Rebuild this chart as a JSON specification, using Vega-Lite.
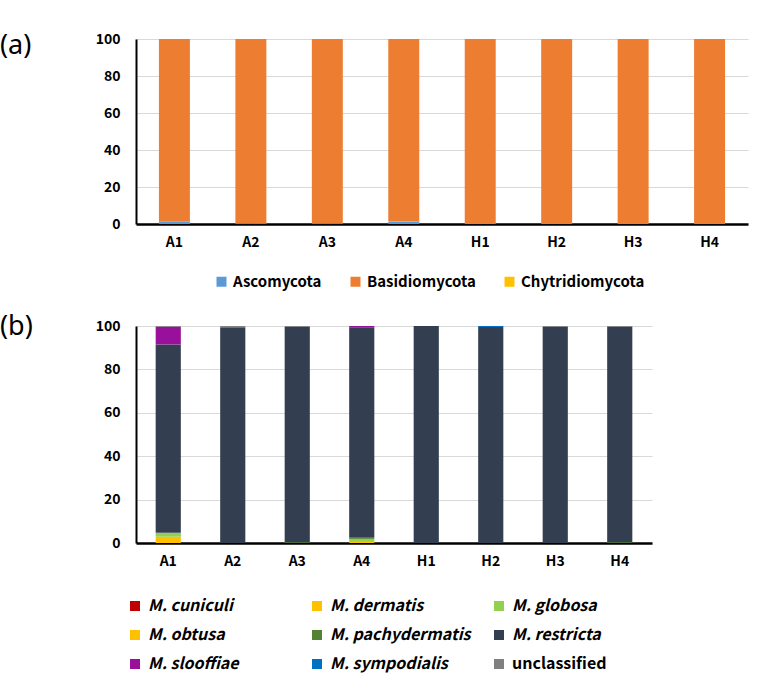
{
  "$schema": "https://vega.github.io/schema/vega-lite/v6.json",
  "padding": {"left": 0, "top": 32, "right": 5, "bottom": 5},
  "background": "white",
  "config": {
    "view": {"stroke": null},
    "font": "Noto Sans CJK KR",
    "axis": {"labelFont": "Noto Sans CJK KR", "labelFontWeight": "bold", "labelFontSize": 14, "labelColor": "#000000", "ticks": false, "title": null},
    "legend": {"labelFont": "Noto Sans CJK KR", "labelFontWeight": "bold", "labelColor": "#000000", "symbolType": "square", "symbolStrokeWidth": 0, "title": null}
  },
  "vconcat": [
    {
      "width": 612,
      "height": 185,
      "title": {"text": "(a)", "anchor": "start", "frame": "group", "orient": "top", "baseline": "top", "offset": 0, "dx": -136, "dy": 28, "font": "Noto Sans", "fontSize": 27, "fontWeight": "normal", "color": "#000000"},
      "data": {"values": [
        {"sample": "A1", "phylum": "Ascomycota", "value": 1.4},
        {"sample": "A1", "phylum": "Basidiomycota", "value": 98.6},
        {"sample": "A1", "phylum": "Chytridiomycota", "value": 0},
        {"sample": "A2", "phylum": "Ascomycota", "value": 0.1},
        {"sample": "A2", "phylum": "Basidiomycota", "value": 99.9},
        {"sample": "A3", "phylum": "Ascomycota", "value": 0.1},
        {"sample": "A3", "phylum": "Basidiomycota", "value": 99.9},
        {"sample": "A4", "phylum": "Ascomycota", "value": 1.3},
        {"sample": "A4", "phylum": "Basidiomycota", "value": 98.7},
        {"sample": "H1", "phylum": "Ascomycota", "value": 0},
        {"sample": "H1", "phylum": "Basidiomycota", "value": 100},
        {"sample": "H2", "phylum": "Ascomycota", "value": 0},
        {"sample": "H2", "phylum": "Basidiomycota", "value": 100},
        {"sample": "H3", "phylum": "Ascomycota", "value": 0},
        {"sample": "H3", "phylum": "Basidiomycota", "value": 100},
        {"sample": "H4", "phylum": "Ascomycota", "value": 0},
        {"sample": "H4", "phylum": "Basidiomycota", "value": 100}
      ]},
      "mark": {"type": "bar"},
      "encoding": {
        "x": {"field": "sample", "type": "nominal", "sort": null,
              "scale": {"paddingInner": 0.595, "paddingOuter": 0.3},
              "axis": {"labelAngle": 0, "domainColor": "#000000", "domainWidth": 2.5, "labelPadding": 11}},
        "y": {"field": "value", "type": "quantitative", "stack": "zero",
              "scale": {"domain": [0, 100], "nice": false},
              "axis": {"values": [0, 20, 40, 60, 80, 100], "domainColor": "#000000", "domainWidth": 2, "gridColor": "#d9d9d9", "gridWidth": 1, "labelPadding": 16}},
        "order": {"field": "phylum", "sort": "ascending"},
        "color": {"field": "phylum", "type": "nominal",
                  "scale": {"domain": ["Ascomycota", "Basidiomycota", "Chytridiomycota"], "range": ["#5B9BD5", "#ED7D31", "#FFC000"]},
                  "legend": {"orient": "none", "direction": "horizontal", "legendX": 78, "legendY": 235, "labelFontSize": 15, "symbolSize": 100, "columnPadding": 26, "labelOffset": 4}}
      }
    },
    {
      "width": 516,
      "height": 217,
      "title": {"text": "(b)", "anchor": "start", "frame": "group", "orient": "top", "baseline": "top", "offset": 0, "dx": -136, "dy": 22, "font": "Noto Sans", "fontSize": 27, "fontWeight": "normal", "color": "#000000"},
      "data": {"values": [
        {"sample": "A1", "species": "M. dermatis", "value": 2.9},
        {"sample": "A1", "species": "M. globosa", "value": 1.8},
        {"sample": "A1", "species": "M. restricta", "value": 86.8},
        {"sample": "A1", "species": "M. slooffiae", "value": 8.2},
        {"sample": "A1", "species": "unclassified", "value": 0.3},
        {"sample": "A2", "species": "M. restricta", "value": 99.4},
        {"sample": "A2", "species": "unclassified", "value": 0.6},
        {"sample": "A3", "species": "M. pachydermatis", "value": 0.4},
        {"sample": "A3", "species": "M. restricta", "value": 99.4},
        {"sample": "A3", "species": "unclassified", "value": 0.2},
        {"sample": "A4", "species": "M. dermatis", "value": 0.5},
        {"sample": "A4", "species": "M. globosa", "value": 1.4},
        {"sample": "A4", "species": "M. pachydermatis", "value": 0.9},
        {"sample": "A4", "species": "M. restricta", "value": 96.6},
        {"sample": "A4", "species": "M. slooffiae", "value": 0.6},
        {"sample": "H1", "species": "M. restricta", "value": 100},
        {"sample": "H2", "species": "M. restricta", "value": 99.5},
        {"sample": "H2", "species": "M. sympodialis", "value": 0.5},
        {"sample": "H3", "species": "M. restricta", "value": 99.8},
        {"sample": "H3", "species": "unclassified", "value": 0.2},
        {"sample": "H4", "species": "M. pachydermatis", "value": 0.4},
        {"sample": "H4", "species": "M. restricta", "value": 99.4},
        {"sample": "H4", "species": "unclassified", "value": 0.2}
      ]},
      "mark": {"type": "bar"},
      "encoding": {
        "x": {"field": "sample", "type": "nominal", "sort": null,
              "scale": {"paddingInner": 0.61, "paddingOuter": 0.305},
              "axis": {"labelAngle": 0, "domainColor": "#000000", "domainWidth": 2.5, "labelPadding": 11}},
        "y": {"field": "value", "type": "quantitative", "stack": "zero",
              "scale": {"domain": [0, 100], "nice": false},
              "axis": {"values": [0, 20, 40, 60, 80, 100], "domainColor": "#000000", "domainWidth": 2, "gridColor": "#d9d9d9", "gridWidth": 1, "labelPadding": 16}},
        "order": {"field": "species", "sort": "ascending"},
        "color": {"field": "species", "type": "nominal",
                  "scale": {"domain": ["M. cuniculi", "M. dermatis", "M. globosa", "M. obtusa", "M. pachydermatis", "M. restricta", "M. slooffiae", "M. sympodialis", "unclassified"],
                            "range": ["#C00000", "#FFC000", "#92D050", "#FFC000", "#548235", "#333F50", "#99109A", "#0070C0", "#808080"]},
                  "legend": {"orient": "none", "direction": "horizontal", "columns": 3, "gridAlign": "all", "legendX": -9, "legendY": 272, "labelFontSize": 16, "labelFontStyle": "italic", "symbolSize": 100, "columnPadding": 20, "rowPadding": 13, "labelOffset": 5,
                             "encode": {"labels": {"update": {"fontStyle": {"signal": "datum.label === 'unclassified' ? 'normal' : 'italic'"}}}}}}
      }
    }
  ],
  "spacing": 23,
  "resolve": {"scale": {"color": "independent", "x": "independent", "y": "independent"}}
}
